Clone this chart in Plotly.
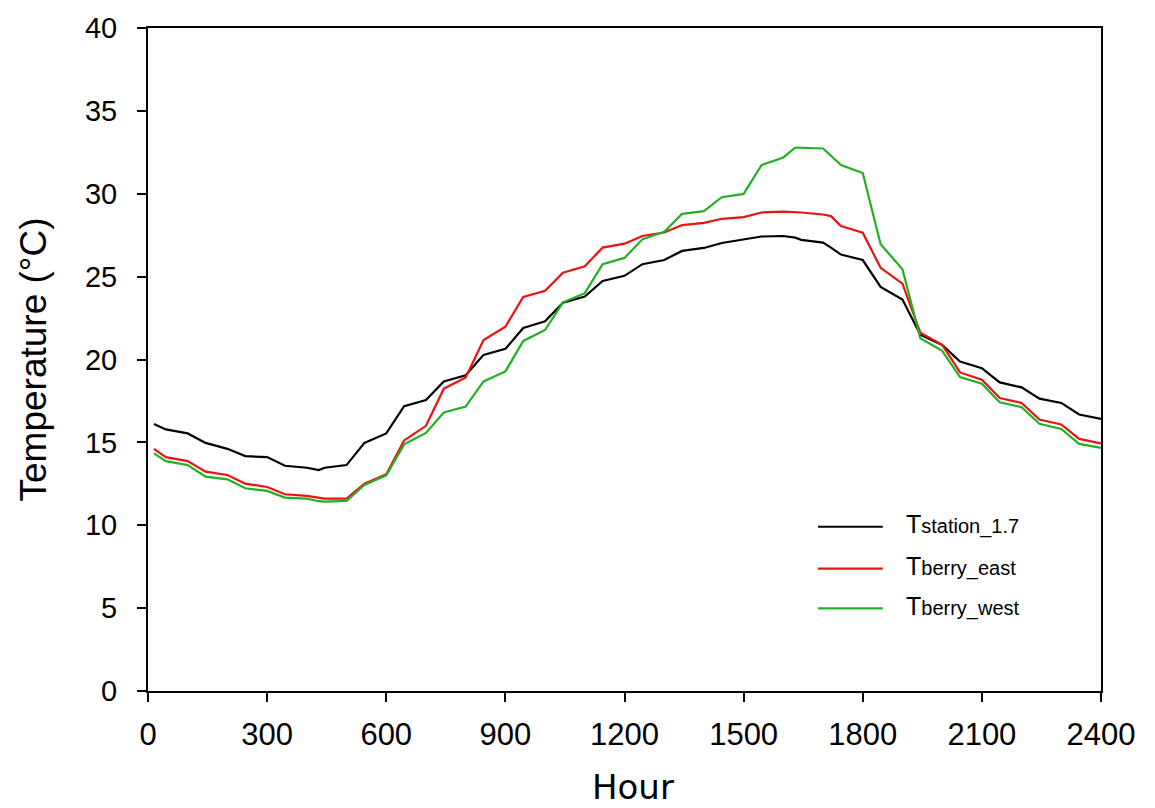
import plotly.graph_objects as go

# Time of day (HHMM) for each reading
hours = [15, 45, 100, 145, 200, 245, 300, 345, 400, 430, 445, 500, 545, 600,
         645, 700, 745, 800, 845, 900, 945, 1000, 1045, 1100, 1145, 1200,
         1245, 1300, 1345, 1400, 1445, 1500, 1545, 1600, 1630, 1645, 1700,
         1720, 1745, 1800, 1845, 1900, 1945, 2000, 2045, 2100, 2145, 2200,
         2245, 2300, 2345, 2400]

# Weather station air temperature at 1.7 m (°C)
t_station = [16.11, 15.78, 15.54, 14.97, 14.61, 14.17, 14.11, 13.59, 13.47,
             13.33, 13.47, 13.63, 14.97, 15.54, 17.18, 17.56, 18.68, 19.05,
             20.28, 20.64, 21.90, 22.30, 23.42, 23.80, 24.74, 25.05, 25.75,
             26.00, 26.55, 26.73, 27.03, 27.24, 27.42, 27.45, 27.35, 27.22,
             27.05, 26.75, 26.33, 26.00, 24.38, 23.62, 21.50, 20.88, 19.88,
             19.48, 18.62, 18.32, 17.64, 17.38, 16.68, 16.42]

# Berry temperature, east side (°C)
t_berry_east = [14.61, 14.11, 13.87, 13.23, 13.03, 12.51, 12.31, 11.87, 11.77,
                11.65, 11.61, 11.61, 12.51, 13.07, 15.12, 16.00, 18.24, 18.92,
                21.18, 21.98, 23.78, 24.15, 25.24, 25.63, 26.75, 26.99, 27.45,
                27.66, 28.11, 28.24, 28.49, 28.59, 28.87, 28.92, 28.90, 28.87,
                28.75, 28.65, 28.05, 27.65, 25.53, 24.58, 21.62, 20.88, 19.22,
                18.78, 17.68, 17.38, 16.38, 16.08, 15.21, 14.94]

# Berry temperature, west side (°C)
t_berry_west = [14.34, 13.87, 13.63, 12.93, 12.77, 12.23, 12.07, 11.67, 11.61,
                11.45, 11.43, 11.47, 12.43, 13.01, 14.88, 15.57, 16.80, 17.16,
                18.68, 19.28, 21.12, 21.78, 23.45, 24.00, 25.75, 26.13, 27.25,
                27.70, 28.79, 28.95, 29.79, 29.99, 31.73, 32.19, 32.79, 32.77,
                32.73, 32.29, 31.73, 31.25, 26.95, 25.45, 21.28, 20.52, 18.94,
                18.54, 17.42, 17.12, 16.12, 15.81, 14.91, 14.67]

series_subs = ["station_1.7", "berry_east", "berry_west"]
series_vals = [t_station, t_berry_east, t_berry_west]
series_colors = ["#000000", "#ee1111", "#22b022"]

x_ticks = [0, 300, 600, 900, 1200, 1500, 1800, 2100, 2400]
y_ticks = [0, 5, 10, 15, 20, 25, 30, 35, 40]

fig = go.Figure()
for sub, vals, col in zip(series_subs, series_vals, series_colors):
    fig.add_trace(go.Scatter(x=hours, y=vals, mode="lines", name="T" + sub,
                             line=dict(color=col, width=2.2), showlegend=False))

# Hand-placed legend: long sample lines and T with a smaller suffix
legend_rows_y = [0.2477, 0.1847, 0.1246]
for sub, col, yy in zip(series_subs, series_colors, legend_rows_y):
    fig.add_shape(type="line", xref="paper", yref="paper",
                  x0=0.703, x1=0.771, y0=yy, y1=yy,
                  line=dict(color=col, width=2.2))
    fig.add_annotation(xref="paper", yref="paper", x=0.7935, y=yy + 0.004,
                       xanchor="left", yanchor="middle", showarrow=False,
                       text='T<span style="font-size:20px">' + sub + '</span>',
                       font=dict(family="Liberation Sans, Arial", size=25,
                                 color="black"))

# Axis titles
fig.add_annotation(xref="paper", yref="paper", x=(33 - 148) / 953, y=0.5,
                   xanchor="center", yanchor="middle", showarrow=False,
                   textangle=-90, text="Temperature (°C)",
                   font=dict(family="Liberation Sans, Arial", size=37,
                             color="black"))
fig.add_annotation(xref="paper", yref="paper", x=(633 - 148) / 953,
                   y=(691 - 787) / 666, xanchor="center", yanchor="middle",
                   showarrow=False, text="Hour",
                   font=dict(family="DejaVu Sans", size=34, color="black"))

axis_common = dict(showgrid=False, zeroline=False, showline=True,
                   linecolor="black", linewidth=2, mirror=True,
                   ticks="outside", ticklen=9, tickwidth=2, tickcolor="black")

fig.update_xaxes(range=[0, 2400], tickvals=x_ticks,
                 ticktext=[str(v) for v in x_ticks],
                 tickfont=dict(family="Liberation Sans, Arial", size=31,
                               color="black"),
                 ticklabelstandoff=6, **axis_common)
fig.update_yaxes(range=[0, 40], tickvals=y_ticks,
                 ticktext=[str(v) for v in y_ticks],
                 tickfont=dict(family="Liberation Sans, Arial", size=29,
                               color="black"),
                 ticklabelstandoff=14, **axis_common)

fig.update_layout(width=1155, height=808,
                  margin=dict(l=148, r=54, t=25, b=117),
                  plot_bgcolor="white", paper_bgcolor="white")

fig.write_html("out.html")
